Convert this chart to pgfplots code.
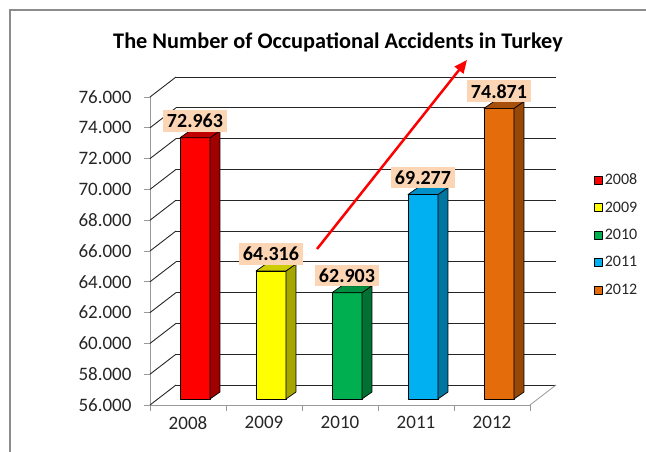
\documentclass[border=0pt]{standalone}
\usepackage{pgfplots}
\pgfplotsset{compat=1.18}
\usepackage{pgfplotstable}
\usepackage{fontspec}
\setmainfont{Carlito}
\usetikzlibrary{arrows.meta}

\definecolor{peach}{HTML}{FCD5B5}
\definecolor{c08}{HTML}{FF0000}\definecolor{s08}{HTML}{A00000}\definecolor{t08}{HTML}{C00000}
\definecolor{c09}{HTML}{FFFF00}\definecolor{s09}{HTML}{A6A600}\definecolor{t09}{HTML}{CCCC00}
\definecolor{c10}{HTML}{00B050}\definecolor{s10}{HTML}{007033}\definecolor{t10}{HTML}{008F40}
\definecolor{c11}{HTML}{00B0F0}\definecolor{s11}{HTML}{0075A0}\definecolor{t11}{HTML}{0090C8}
\definecolor{c12}{HTML}{E46C0A}\definecolor{s12}{HTML}{974706}\definecolor{t12}{HTML}{A8500A}

% #1 category centre, #2 value, #3 front, #4 side, #5 top colour
\newcommand\threedbar[5]{%
  \pgfmathsetmacro\xa{#1-0.10526}\pgfmathsetmacro\xb{#1+0.28947}%
  \pgfmathsetmacro\xc{#1+0.42105}\pgfmathsetmacro\xd{#1+0.02632}%
  \pgfmathsetmacro\ya{56.3896}\pgfmathsetmacro\yb{#2+0.3896}%
  \pgfmathsetmacro\yc{#2+0.8442}\pgfmathsetmacro\yd{56.8442}%
  \addplot[fill=#3, draw=black, line width=0.7pt, line join=round,
    legend image code/.code={\draw[fill=#3, draw=black, line width=0.8pt] (0pt,-4pt) rectangle (8pt,4pt);}]
    coordinates {(\xa,\ya) (\xa,\yb) (\xb,\yb) (\xb,\ya)} -- cycle;
  \addplot[forget plot, fill=#4, draw=black, line width=0.7pt, line join=round]
    coordinates {(\xb,\ya) (\xb,\yb) (\xc,\yc) (\xc,\yd)} -- cycle;
  \addplot[forget plot, fill=#5, draw=black, line width=0.7pt, line join=round]
    coordinates {(\xa,\yb) (\xd,\yc) (\xc,\yc) (\xb,\yb)} -- cycle;
}

\pgfplotstableread{
x v
0.5 72.963
1.5 64.316
2.5 62.903
3.5 69.277
4.5 74.871
}\accidents

\begin{document}
\begin{tikzpicture}[x=1pt,y=1pt]
\useasboundingbox (0,0) rectangle (646,452);
\draw[black!45, line width=1.5pt] (10,0) -- (10,442) -- (646,442);
\node[font=\fontsize{22.3}{24}\selectfont\bfseries] at (338,410) {The Number of Occupational Accidents in Turkey};
\begin{axis}[
  scale only axis, width=380pt, height=308pt,
  at={(150pt,47pt)}, anchor=south west,
  xmin=0, xmax=5, ymin=56, ymax=76,
  clip=false,
  axis x line*=bottom, axis y line*=left,
  axis line style={black!40, line width=0.8pt, -},
  ytick={56,58,...,76},
  xtick={0,...,5}, xticklabels={},
  extra x ticks={0.5,1.5,2.5,3.5,4.5},
  extra x tick labels={2008,2009,2010,2011,2012},
  extra x tick style={major tick length=0pt, tick label style={yshift=-8pt}},
  tick align=outside,
  major tick length=6pt,
  tick style={black!40, line width=0.8pt},
  ymajorgrids,
  major grid style={black!85, line width=0.9pt, xshift=26pt, yshift=20pt},
  /pgf/number format/assume math mode=true,
  tick label style={font=\fontsize{19}{21}\selectfont, text=black!85},
  yticklabel style={xshift=-9pt, /pgf/number format/fixed, /pgf/number format/fixed zerofill, /pgf/number format/precision=3},
  legend style={draw=none, fill=none, at={(1.16,0.764)}, anchor=north west,
    font=\fontsize{16}{18}\selectfont, row sep=11.5pt, text=black!85},
  legend cell align=left,
]
\pgfplotsinvokeforeach{56,58,...,76}{
  \draw[black!85, line width=0.9pt] (axis cs:0,#1) -- ++(26pt,20pt);
}
\draw[black!40, line width=0.8pt] (axis cs:5,56) -- ++(26pt,20pt);
\threedbar{0.5}{72.963}{c08}{s08}{t08}
\threedbar{1.5}{64.316}{c09}{s09}{t09}
\threedbar{2.5}{62.903}{c10}{s10}{t10}
\threedbar{3.5}{69.277}{c11}{s11}{t11}
\threedbar{4.5}{74.871}{c12}{s12}{t12}
\addplot[forget plot, only marks, mark=*, mark size=0pt, mark options={draw=none, fill=none},
  visualization depends on={rawy \as \py},
  nodes near coords={\pgfmathprintnumber[fixed,fixed zerofill,precision=3]{\py}},
  every node near coord/.append style={anchor=south, xshift=7pt, yshift=12pt,
    fill=peach, text=black, font=\fontsize{20}{22}\selectfont\bfseries,
    inner xsep=4pt, inner ysep=4pt}]
  table[x=x, y=v] {\accidents};
\legend{2008,2009,2010,2011,2012}
\end{axis}
\draw[red, line width=2.5pt, -{Triangle[length=13pt,width=11pt]}] (317,203) -- (467,392);
\end{tikzpicture}
\end{document}
